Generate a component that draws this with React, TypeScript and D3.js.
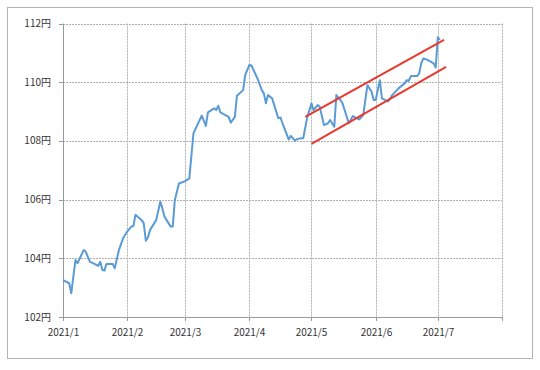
import React from "react";
import * as d3 from "d3";

const dates: string[] = [
  "2021-01-01","2021-01-04","2021-01-05","2021-01-07","2021-01-08","2021-01-11","2021-01-12","2021-01-14","2021-01-15","2021-01-18","2021-01-19","2021-01-20","2021-01-21","2021-01-22","2021-01-25","2021-01-26","2021-01-28","2021-01-30",
  "2021-02-01","2021-02-03","2021-02-04","2021-02-05","2021-02-08","2021-02-09","2021-02-10","2021-02-11","2021-02-12","2021-02-15","2021-02-17","2021-02-18","2021-02-19","2021-02-22","2021-02-23","2021-02-24","2021-02-26",
  "2021-03-01","2021-03-03","2021-03-05","2021-03-09","2021-03-11","2021-03-12","2021-03-15","2021-03-16","2021-03-17","2021-03-18","2021-03-22","2021-03-23","2021-03-25","2021-03-26","2021-03-29","2021-03-30",
  "2021-04-01","2021-04-02","2021-04-05","2021-04-07","2021-04-08","2021-04-09","2021-04-10","2021-04-12","2021-04-13","2021-04-15","2021-04-16","2021-04-17","2021-04-20","2021-04-21","2021-04-23","2021-04-24","2021-04-26","2021-04-27","2021-04-29",
  "2021-05-01","2021-05-02","2021-05-04","2021-05-05","2021-05-07","2021-05-09","2021-05-10","2021-05-12","2021-05-13","2021-05-15","2021-05-16","2021-05-19","2021-05-21","2021-05-22","2021-05-24","2021-05-26","2021-05-28","2021-05-30","2021-05-31",
  "2021-06-01","2021-06-03","2021-06-04","2021-06-07","2021-06-09","2021-06-12","2021-06-15","2021-06-16","2021-06-17","2021-06-18","2021-06-21","2021-06-22","2021-06-23","2021-06-24","2021-06-26","2021-06-29","2021-06-30",
  "2021-07-01","2021-07-02",
];

const rates: number[] = [
  103.26,103.15,102.81,103.94,103.83,104.28,104.22,103.88,103.85,103.74,103.88,103.60,103.58,103.81,103.81,103.66,104.28,104.68,
  104.91,105.08,105.10,105.48,105.30,105.19,104.60,104.71,104.96,105.30,105.93,105.70,105.42,105.08,105.08,105.99,106.55,
  106.63,106.72,108.26,108.86,108.51,108.97,109.11,109.05,109.20,108.97,108.82,108.62,108.82,109.54,109.73,110.25,
  110.59,110.57,110.11,109.73,109.62,109.28,109.56,109.45,109.22,108.77,108.80,108.60,108.05,108.17,108.01,108.06,108.09,108.09,108.82,
  109.28,109.05,109.22,109.16,108.54,108.60,108.71,108.48,109.56,109.39,109.28,108.60,108.85,108.80,108.73,108.88,109.90,109.68,109.39,
  109.39,110.07,109.45,109.34,109.56,109.79,109.96,110.07,110.05,110.21,110.21,110.30,110.64,110.81,110.76,110.64,110.50,
  111.53,111.44,
];

// trend channel lines (start/end date, value)
const upperDates: string[] = ["2021-04-28", "2021-07-04"];
const upperValues: number[] = [108.82, 111.44];
const lowerDates: string[] = ["2021-05-01", "2021-07-05"];
const lowerValues: number[] = [107.90, 110.52];

const monthTicks: string[] = ["2021-01-01","2021-02-01","2021-03-01","2021-04-01","2021-05-01","2021-06-01","2021-07-01","2021-08-01"];
const monthLabels: string[] = ["2021/1","2021/2","2021/3","2021/4","2021/5","2021/6","2021/7",""];
const yTicks: number[] = [102, 104, 106, 108, 110, 112];

const W = 540, H = 370;
const left = 63, right = 502, top = 23.5, bottom = 317;
const font = "'Noto Sans CJK JP', 'Noto Sans', sans-serif";

export default function App() {
  const parse = d3.timeParse("%Y-%m-%d");
  const x = d3.scaleTime()
    .domain([parse("2021-01-01")!, parse("2021-08-01")!])
    .range([left, right]);
  const y = d3.scaleLinear().domain([102, 112]).range([bottom, top]);

  const pts = dates.map((d, i) => ({ d: parse(d)!, v: rates[i] }));
  const line = d3.line<{ d: Date; v: number }>().x(p => x(p.d)).y(p => y(p.v));
  const upper = upperDates.map((d, i) => ({ d: parse(d)!, v: upperValues[i] }));
  const lower = lowerDates.map((d, i) => ({ d: parse(d)!, v: lowerValues[i] }));

  return (
    <svg width={W} height={H} style={{ position: "absolute", left: 0, top: 0, background: "#fff" }}>
      <rect x={7.5} y={7.5} width={525} height={351} fill="#fff" stroke="#b4b4b4" strokeWidth={1} />
      {/* horizontal gridlines */}
      {yTicks.map(t => (
        <g key={"y" + t}>
          {t !== 102 && (
            <line x1={left} x2={right} y1={Math.round(y(t)) + 0.5} y2={Math.round(y(t)) + 0.5}
              stroke="#b0b0b0" strokeDasharray="2,1" />
          )}
          <line x1={left - 4} x2={left} y1={Math.round(y(t)) + 0.5} y2={Math.round(y(t)) + 0.5} stroke="#9a9a9a" />
          <text x={51} y={y(t)} dy="0.35em" textAnchor="end" fontFamily={font} fontSize={10} fill="#333">
            {t}円
          </text>
        </g>
      ))}
      {/* vertical gridlines */}
      {monthTicks.map((m, i) => {
        const xx = Math.round(x(parse(m)!)) + 0.5;
        return (
          <g key={"x" + m}>
            {i > 0 && (
              <line x1={xx} x2={xx} y1={top} y2={bottom} stroke="#b0b0b0" strokeDasharray="2,1" />
            )}
            <line x1={xx} x2={xx} y1={bottom} y2={bottom + 4} stroke="#9a9a9a" />
            <text x={xx} y={332} dy="0.35em" textAnchor="middle" fontFamily={font} fontSize={10} fill="#333">
              {monthLabels[i]}
            </text>
          </g>
        );
      })}
      {/* axes */}
      <line x1={left + 0.5} x2={left + 0.5} y1={top} y2={bottom} stroke="#9a9a9a" />
      <line x1={left} x2={right} y1={Math.round(bottom) + 0.5} y2={Math.round(bottom) + 0.5} stroke="#9a9a9a" />
      {/* series */}
      <path d={line(pts)!} fill="none" stroke="#5b9bd5" strokeWidth={2} strokeLinejoin="round" />
      <path d={line(upper)!} fill="none" stroke="#e8392f" strokeWidth={2} />
      <path d={line(lower)!} fill="none" stroke="#e8392f" strokeWidth={2} />
    </svg>
  );
}
